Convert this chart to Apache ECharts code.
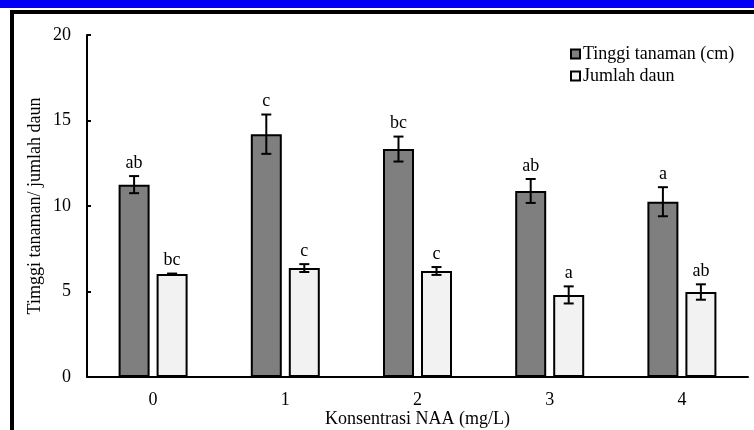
<!DOCTYPE html>
<html>
<head>
<meta charset="utf-8">
<script src="https://cdn.jsdelivr.net/npm/echarts@6/dist/echarts.min.js"></script>
<style>
html, body { margin: 0; padding: 0; background: #fff; }
#chart { width: 754px; height: 430px; }
</style>
</head>
<body>
<div id="chart"></div>
<script>
var categories = ['0', '1', '2', '3', '4'];
var tinggi = [11.25, 14.2, 13.33, 10.88, 10.25];
var tinggiErr = [0.5, 1.15, 0.73, 0.7, 0.85];
var tinggiLetters = ['ab', 'c', 'bc', 'ab', 'a'];
var daun = [6.02, 6.37, 6.2, 4.8, 4.97];
var daunErr = [0.03, 0.23, 0.23, 0.5, 0.45];
var daunLetters = ['bc', 'c', 'c', 'a', 'ab'];

var FONT = 'Liberation Serif';
var FS = 18;
var BAR_W = 31;
var BAR_GAP = 7;

// error bars + letters, shifted onto the left/right bar of each pair
function errorSeries(values, errs, letters, side) {
    var data = [];
    for (var i = 0; i < values.length; i++) {
        data.push([i, values[i], errs[i], letters[i]]);
    }
    return {
        type: 'custom',
        silent: true,
        z: 5,
        data: data,
        renderItem: function (params, api) {
            var dx = side * (BAR_W + BAR_GAP) / 2;
            var hi = api.coord([api.value(0), api.value(1) + api.value(2)]);
            var lo = api.coord([api.value(0), api.value(1) - api.value(2)]);
            var x = hi[0] + dx;
            var cap = 5;
            var st = { stroke: '#000', lineWidth: 2 };
            return {
                type: 'group',
                children: [
                    { type: 'line', shape: { x1: x, y1: hi[1], x2: x, y2: lo[1] }, style: st },
                    { type: 'line', shape: { x1: x - cap, y1: hi[1], x2: x + cap, y2: hi[1] }, style: st },
                    { type: 'line', shape: { x1: x - cap, y1: lo[1], x2: x + cap, y2: lo[1] }, style: st },
                    {
                        type: 'text',
                        style: {
                            text: api.value(3), x: x, y: hi[1] - 4,
                            align: 'center', verticalAlign: 'bottom',
                            fontFamily: FONT, fontSize: FS, fill: '#000'
                        }
                    }
                ]
            };
        }
    };
}

var chart = echarts.init(document.getElementById('chart'));
chart.setOption({
    animation: false,
    backgroundColor: '#fff',
    textStyle: { fontFamily: FONT },
    graphic: [
        { type: 'rect', shape: { x: 0, y: 0, width: 754, height: 8 }, style: { fill: '#0000f5' }, z: 100 },
        { type: 'rect', shape: { x: 12, y: 12, width: 800, height: 500 }, style: { fill: 'none', stroke: '#000', lineWidth: 4 }, z: 100 }
    ],
    grid: { left: 87, right: 6, top: 35, bottom: 53, containLabel: false, outerBoundsMode: 'none' },
    legend: {
        orient: 'vertical',
        left: 565,
        top: 40,
        itemWidth: 9,
        itemHeight: 9,
        itemGap: 4,
        icon: 'rect',
        textStyle: { fontFamily: FONT, fontSize: FS, color: '#000', padding: [0, 0, 0, -2] },
        data: ['Tinggi tanaman (cm)', 'Jumlah daun']
    },
    xAxis: {
        type: 'category',
        data: categories,
        name: 'Konsentrasi NAA (mg/L)',
        nameLocation: 'middle',
        nameGap: 33,
        nameMoveOverlap: false,
        nameTextStyle: { fontFamily: FONT, fontSize: FS, color: '#000' },
        axisLine: { lineStyle: { color: '#000', width: 2 } },
        axisTick: { inside: true, length: 4, lineStyle: { color: '#000', width: 2 } },
        axisLabel: { fontFamily: FONT, fontSize: FS, color: '#000', margin: 14 }
    },
    yAxis: {
        type: 'value',
        min: 0,
        max: 20,
        interval: 5,
        name: 'Timggi tanaman/ jumlah daun',
        nameLocation: 'middle',
        nameGap: 43,
        nameMoveOverlap: false,
        nameTextStyle: { fontFamily: FONT, fontSize: FS, color: '#000' },
        axisLine: { show: true, lineStyle: { color: '#000', width: 2 } },
        axisTick: { show: true, inside: true, length: 4, lineStyle: { color: '#000', width: 2 } },
        axisLabel: { fontFamily: FONT, fontSize: FS, color: '#000', margin: 16 },
        splitLine: { show: false }
    },
    series: [
        {
            name: 'Tinggi tanaman (cm)',
            type: 'bar',
            data: tinggi,
            barWidth: BAR_W,
            barGap: (BAR_GAP / BAR_W * 100) + '%',
            itemStyle: { color: '#7f7f7f', borderColor: '#000', borderWidth: 2 }
        },
        {
            name: 'Jumlah daun',
            type: 'bar',
            data: daun,
            barWidth: BAR_W,
            itemStyle: { color: '#f2f2f2', borderColor: '#000', borderWidth: 2 }
        },
        errorSeries(tinggi, tinggiErr, tinggiLetters, -1),
        errorSeries(daun, daunErr, daunLetters, 1)
    ]
});
</script>
</body>
</html>
